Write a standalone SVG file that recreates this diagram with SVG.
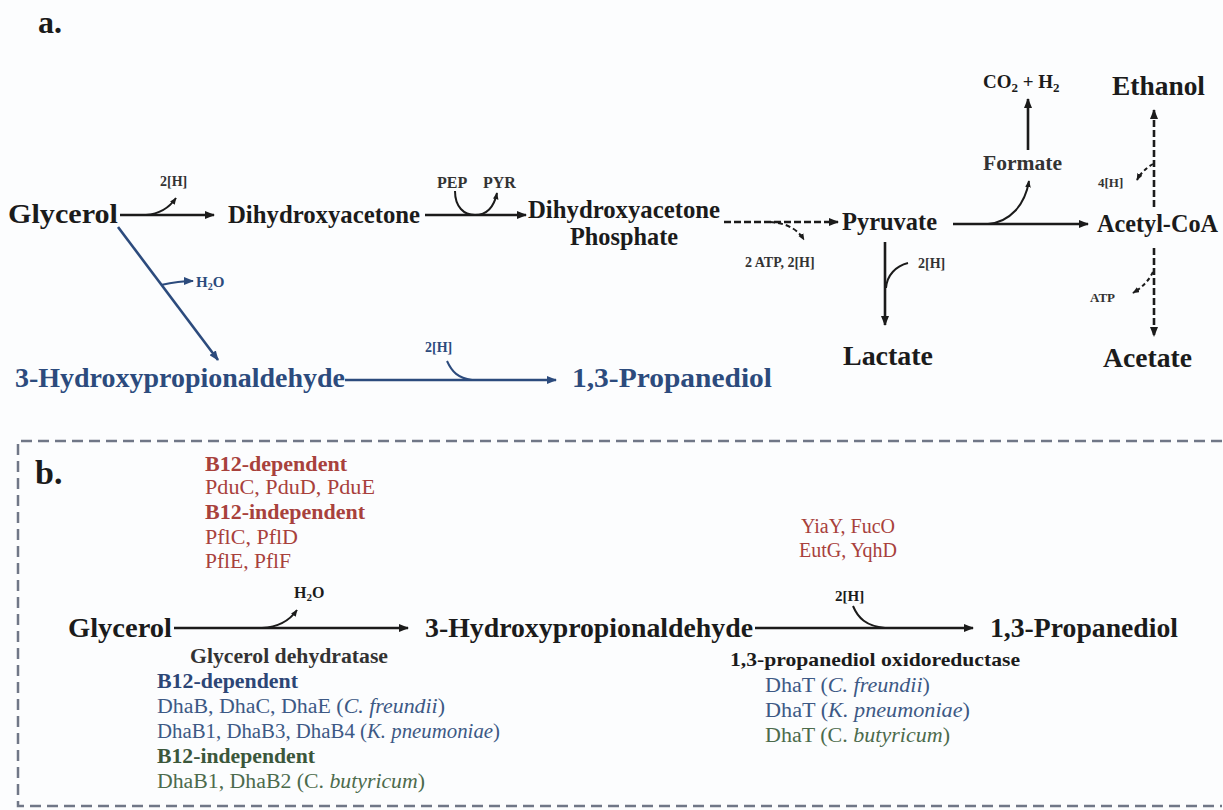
<svg xmlns="http://www.w3.org/2000/svg" width="1223" height="810" viewBox="0 0 1223 810" font-family="Liberation Serif">
  <style>
    .b { font-weight: bold; }
    .k { fill: #1b1b1b; }
    .g { fill: #333333; }
    .bl { fill: #2c4b7d; }
    .rd { fill: #a8413c; }
    .bt { fill: #3d5985; }
    .bd { fill: #2c4676; }
    .gr { fill: #4c6b4c; }
    .gd { fill: #3b573b; }
    .lk { stroke: #1b1b1b; fill: none; stroke-width: 2.6; }
    .lt { stroke: #1b1b1b; fill: none; stroke-width: 2; }
    .ld { stroke: #1b1b1b; fill: none; stroke-width: 2.6; stroke-dasharray: 7 3; }
    .lb { stroke: #2c4b7d; fill: none; stroke-width: 2.6; }
    .lbt { stroke: #2c4b7d; fill: none; stroke-width: 2; }
  </style>
  <defs>
    <marker id="ak" viewBox="0 0 10 8" refX="9" refY="4" markerWidth="10" markerHeight="8" markerUnits="userSpaceOnUse" orient="auto">
      <path d="M0,0 L10,4 L0,8 Z" fill="#1b1b1b"/>
    </marker>
    <marker id="aks" viewBox="0 0 10 8" refX="9" refY="4" markerWidth="7" markerHeight="6" markerUnits="userSpaceOnUse" orient="auto">
      <path d="M0,0 L10,4 L0,8 Z" fill="#1b1b1b"/>
    </marker>
    <marker id="ab" viewBox="0 0 10 8" refX="9" refY="4" markerWidth="10" markerHeight="8" markerUnits="userSpaceOnUse" orient="auto">
      <path d="M0,0 L10,4 L0,8 Z" fill="#2c4b7d"/>
    </marker>
  </defs>
  <rect width="1223" height="810" fill="#fcfdfe"/>

  <!-- panel a -->
  <text x="38" y="33" class="b k" font-size="32">a.</text>

  <g id="connectors-a">
    <!-- glycerol to dihydroxyacetone -->
    <path class="lk" d="M120,215 H214" marker-end="url(#ak)"/>
    <path class="lt" d="M146,215 C160,214 169,208 176,198" marker-end="url(#aks)"/>
    <!-- dihydroxyacetone to DHAP with PEP/PYR -->
    <path class="lk" d="M425,215 H526" marker-end="url(#ak)"/>
    <path class="lt" d="M455,191 C455,207 464,215 475,215 C487,215 494,207 497,193" marker-end="url(#aks)"/>
    <!-- DHAP to pyruvate (dashed) -->
    <path class="ld" d="M724,222 H838" marker-end="url(#ak)"/>
    <path class="lt" stroke-dasharray="5 3" d="M770,222 C785,223 797,228 804,240" marker-end="url(#aks)"/>
    <!-- pyruvate to acetyl-CoA with formate branch -->
    <path class="lk" d="M953,224 H1088" marker-end="url(#ak)"/>
    <path class="lt" d="M988,224 C1010,222 1025,205 1029,181" marker-end="url(#aks)"/>
    <!-- formate to CO2 + H2 -->
    <path class="lk" d="M1028,150 V99" marker-end="url(#ak)"/>
    <!-- pyruvate to lactate -->
    <path class="lk" d="M885,242 V325" marker-end="url(#ak)"/>
    <path class="lt" d="M886,288 C887,275 896,266 908,263"/>
    <!-- acetyl-CoA to ethanol (dashed) -->
    <path class="ld" d="M1154,207 V110" marker-end="url(#ak)"/>
    <path class="lt" stroke-dasharray="4 3" d="M1153,164 C1146,168 1140,174 1137,180" marker-end="url(#aks)"/>
    <!-- acetyl-CoA to acetate (dashed) -->
    <path class="ld" d="M1154,248 V336" marker-end="url(#ak)"/>
    <path class="lt" stroke-dasharray="4 3" d="M1153,272 C1148,282 1141,288 1133,293" marker-end="url(#aks)"/>
    <!-- glycerol to 3-HPA -->
    <path class="lb" d="M118,227 L218,360" marker-end="url(#ab)"/>
    <path class="lbt" d="M161,285 C170,283 180,281 193,281" marker-end="url(#ab)"/>
    <!-- 3-HPA to 1,3-propanediol -->
    <path class="lb" d="M345,380 H556" marker-end="url(#ab)"/>
    <path class="lbt" d="M447,361 C452,372 458,378 472,380"/>
  </g>

  <g id="node-glycerol-a"><text x="8" y="223" class="b k" font-size="28" textLength="110" lengthAdjust="spacingAndGlyphs">Glycerol</text></g>
  <g id="node-dha"><text x="228" y="223" class="b k" font-size="26" textLength="192" lengthAdjust="spacingAndGlyphs">Dihydroxyacetone</text></g>
  <g id="node-dhap">
    <text x="528" y="218" class="b k" font-size="26" textLength="192" lengthAdjust="spacingAndGlyphs">Dihydroxyacetone</text>
    <text x="570" y="245" class="b k" font-size="26" textLength="108" lengthAdjust="spacingAndGlyphs">Phosphate</text>
  </g>
  <g id="node-pyruvate"><text x="842" y="230" class="b k" font-size="25" textLength="95" lengthAdjust="spacingAndGlyphs">Pyruvate</text></g>
  <g id="node-acetylcoa"><text x="1097" y="232" class="b k" font-size="25" textLength="121" lengthAdjust="spacingAndGlyphs">Acetyl-CoA</text></g>
  <g id="node-ethanol"><text x="1112" y="95" class="b k" font-size="27" textLength="93" lengthAdjust="spacingAndGlyphs">Ethanol</text></g>
  <g id="node-co2h2"><text x="983" y="88" class="b k" font-size="19">CO<tspan font-size="13" dy="4">2</tspan><tspan dy="-4"> + H</tspan><tspan font-size="13" dy="4">2</tspan></text></g>
  <g id="node-formate"><text x="983" y="170" class="b g" font-size="20" textLength="79" lengthAdjust="spacingAndGlyphs">Formate</text></g>
  <g id="node-lactate"><text x="843" y="365" class="b k" font-size="27" textLength="90" lengthAdjust="spacingAndGlyphs">Lactate</text></g>
  <g id="node-acetate"><text x="1103" y="367" class="b k" font-size="27" textLength="89" lengthAdjust="spacingAndGlyphs">Acetate</text></g>
  <g id="node-3hpa-a"><text x="15" y="387" class="b bl" font-size="28" textLength="330" lengthAdjust="spacingAndGlyphs">3-Hydroxypropionaldehyde</text></g>
  <g id="node-pdo-a"><text x="572" y="387" class="b bl" font-size="28" textLength="200" lengthAdjust="spacingAndGlyphs">1,3-Propanediol</text></g>

  <g id="labels-a">
    <text x="160" y="186" class="b g" font-size="14">2[H]</text>
    <text x="437" y="188" class="b g" font-size="16">PEP</text>
    <text x="483" y="188" class="b g" font-size="16">PYR</text>
    <text x="745" y="267" class="b g" font-size="14">2 ATP, 2[H]</text>
    <text x="918" y="268" class="b g" font-size="14">2[H]</text>
    <text x="1098" y="187" class="b g" font-size="13">4[H]</text>
    <text x="1090" y="302" class="b g" font-size="13">ATP</text>
    <text x="196" y="287" class="b bl" font-size="15">H<tspan font-size="10" dy="3">2</tspan><tspan dy="-3">O</tspan></text>
    <text x="425" y="352" class="b bl" font-size="14">2[H]</text>
  </g>

  <!-- panel b -->
  <path d="M1222,441 H18 V806 H1222" fill="none" stroke="#707787" stroke-width="2.5" stroke-dasharray="11 6"/>
  <text x="35" y="484" class="b k" font-size="34">b.</text>

  <g id="connectors-b">
    <path class="lk" d="M174,628 H408" marker-end="url(#ak)"/>
    <path class="lt" d="M262,628 C280,627 290,620 297,610" marker-end="url(#aks)"/>
    <path class="lk" d="M755,628 H973" marker-end="url(#ak)"/>
    <path class="lt" d="M853,606 C858,618 866,626 885,628"/>
  </g>

  <g id="node-glycerol-b"><text x="68" y="637" class="b k" font-size="28" textLength="104" lengthAdjust="spacingAndGlyphs">Glycerol</text></g>
  <g id="node-3hpa-b"><text x="425" y="637" class="b k" font-size="28" textLength="328" lengthAdjust="spacingAndGlyphs">3-Hydroxypropionaldehyde</text></g>
  <g id="node-pdo-b"><text x="990" y="637" class="b k" font-size="28" textLength="188" lengthAdjust="spacingAndGlyphs">1,3-Propanediol</text></g>

  <g id="enzymes-dehydratase">
    <text x="205" y="471" class="b rd" font-size="21" textLength="142" lengthAdjust="spacingAndGlyphs">B12-dependent</text>
    <text x="205" y="494" class="rd" font-size="21" textLength="170" lengthAdjust="spacingAndGlyphs">PduC, PduD, PduE</text>
    <text x="205" y="519" class="b rd" font-size="21" textLength="160" lengthAdjust="spacingAndGlyphs">B12-independent</text>
    <text x="205" y="544" class="rd" font-size="21" textLength="93" lengthAdjust="spacingAndGlyphs">PflC, PflD</text>
    <text x="205" y="568" class="rd" font-size="21" textLength="86" lengthAdjust="spacingAndGlyphs">PflE, PflF</text>
    <text x="294" y="598" class="b k" font-size="16">H<tspan font-size="11" dy="3">2</tspan><tspan dy="-3">O</tspan></text>
    <text x="190" y="663" class="b g" font-size="20" textLength="198" lengthAdjust="spacingAndGlyphs">Glycerol dehydratase</text>
    <text x="157" y="688" class="b bd" font-size="20" textLength="141" lengthAdjust="spacingAndGlyphs">B12-dependent</text>
    <text x="157" y="713" class="bt" font-size="20" textLength="288" lengthAdjust="spacingAndGlyphs">DhaB, DhaC, DhaE (<tspan font-style="italic">C. freundii</tspan>)</text>
    <text x="157" y="738" class="bt" font-size="20" textLength="343" lengthAdjust="spacingAndGlyphs">DhaB1, DhaB3, DhaB4 (<tspan font-style="italic">K. pneumoniae</tspan>)</text>
    <text x="157" y="763" class="b gd" font-size="20" textLength="158" lengthAdjust="spacingAndGlyphs">B12-independent</text>
    <text x="157" y="788" class="gr" font-size="20" textLength="268" lengthAdjust="spacingAndGlyphs">DhaB1, DhaB2 (C. <tspan font-style="italic">butyricum</tspan>)</text>
  </g>

  <g id="enzymes-oxidoreductase">
    <text x="848" y="533" class="rd" font-size="20" text-anchor="middle">YiaY, FucO</text>
    <text x="848" y="557" class="rd" font-size="20" text-anchor="middle">EutG, YqhD</text>
    <text x="835" y="601" class="b k" font-size="15">2[H]</text>
    <text x="730" y="666" class="b k" font-size="19" textLength="290" lengthAdjust="spacingAndGlyphs">1,3-propanediol oxidoreductase</text>
    <text x="765" y="692" class="bt" font-size="20" textLength="165" lengthAdjust="spacingAndGlyphs">DhaT (<tspan font-style="italic">C. freundii</tspan>)</text>
    <text x="765" y="717" class="bt" font-size="20" textLength="205" lengthAdjust="spacingAndGlyphs">DhaT (<tspan font-style="italic">K. pneumoniae</tspan>)</text>
    <text x="765" y="742" class="gr" font-size="20" textLength="185" lengthAdjust="spacingAndGlyphs">DhaT (C. <tspan font-style="italic">butyricum</tspan>)</text>
  </g>
</svg>
